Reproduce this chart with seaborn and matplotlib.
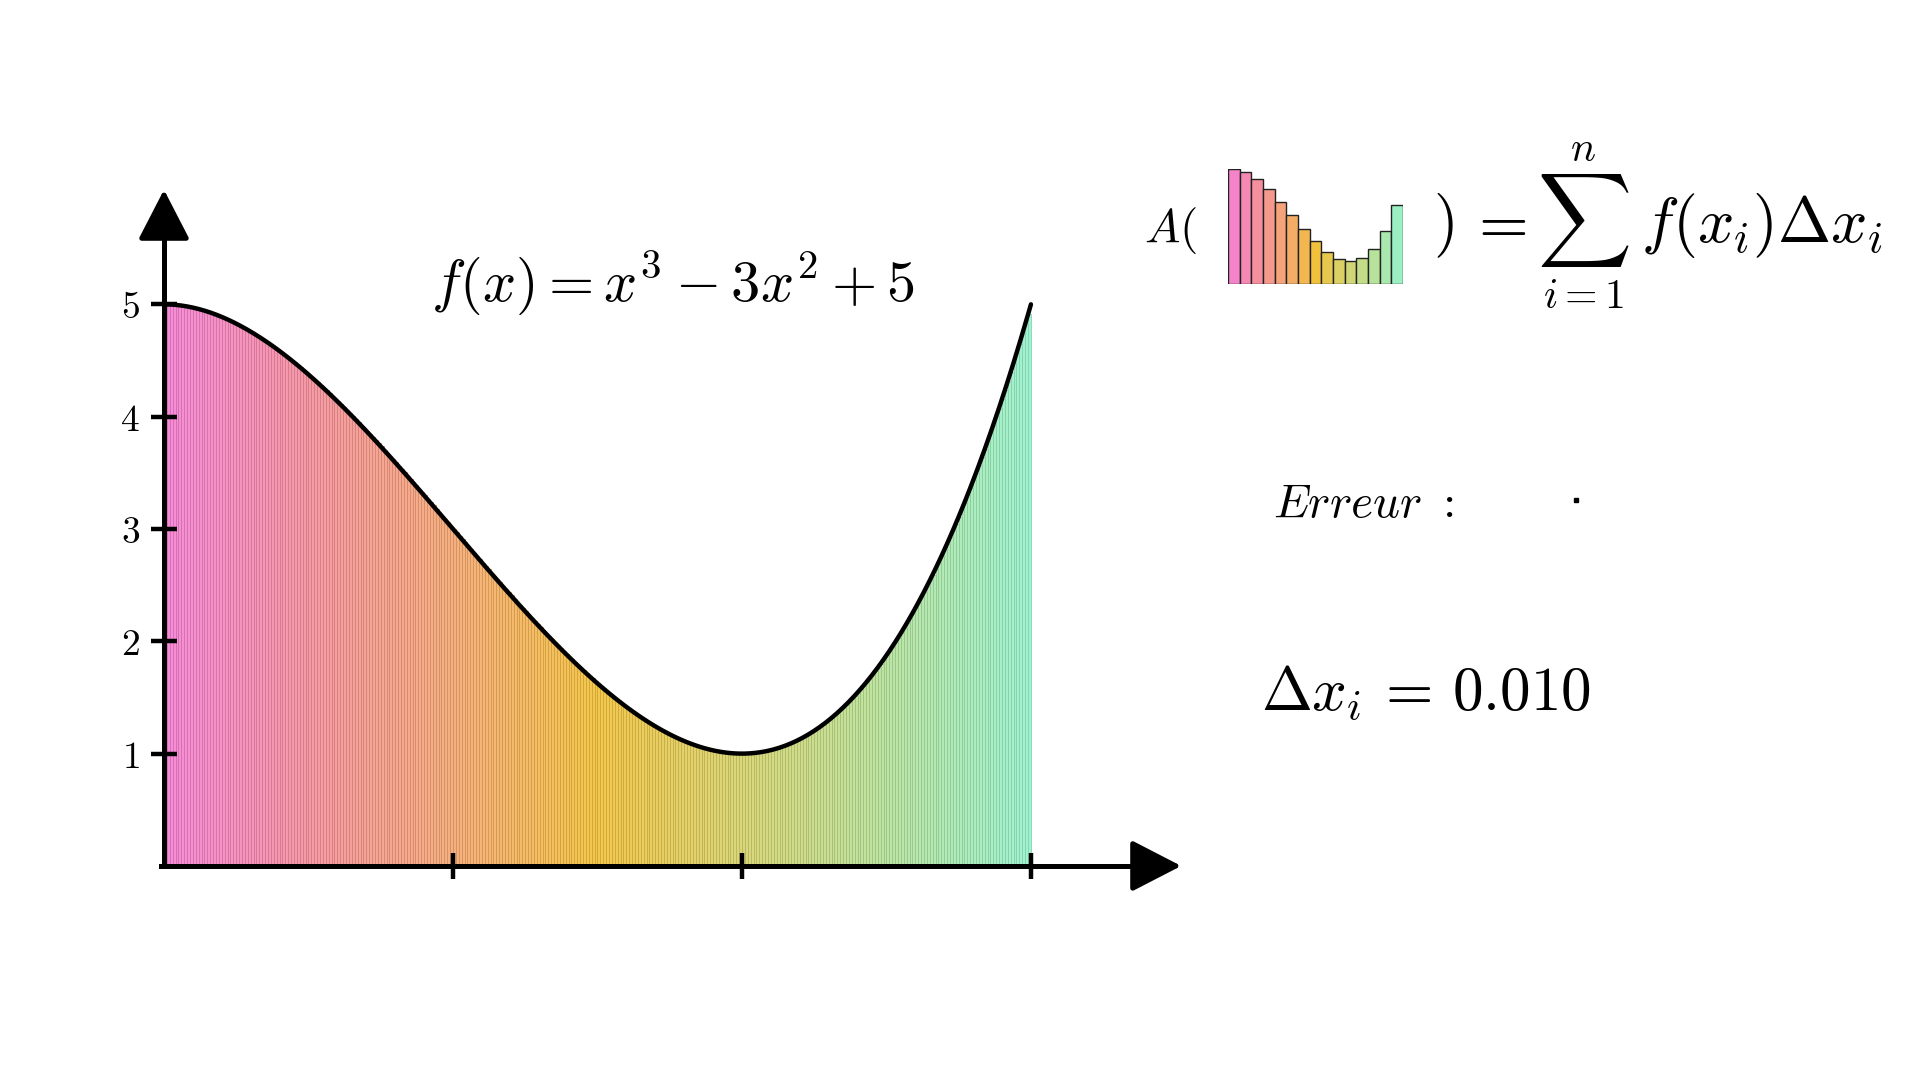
"""
Somme de Riemann de f(x) = x^3 - 3x^2 + 5 sur [0, 3]
"""
import matplotlib.pyplot as plt
import seaborn as sns
import numpy as np
import pandas as pd
from matplotlib.colors import LinearSegmentedColormap, to_rgb
from matplotlib.lines import Line2D

plt.switch_backend('Agg')

# Donnees du graphique
coefs = [1, -3, 0, 5]            # f(x) = x^3 - 3x^2 + 5
x_min, x_max = 0.0, 3.0
delta_x = 0.01
y_ticks = [1, 2, 3, 4, 5]
x_ticks = [1, 2, 3]

# petite icone : 15 rectangles
icone_hauteurs = [5.0, 4.89, 4.58, 4.14, 3.59, 3.0, 2.41, 1.86,
                  1.42, 1.11, 1.0, 1.13, 1.54, 2.30, 3.43]

# degrade rose -> jaune -> vert d'eau
degrade = ["#f580d4", "#f58f9c", "#f5a872", "#f2c13a",
           "#d6d36c", "#b6e29a", "#96f2cc"]
cmap = LinearSegmentedColormap.from_list("riemann", degrade)

sns.set_style("white")
plt.rcParams['mathtext.fontset'] = 'cm'
plt.rcParams['font.family'] = ['DejaVu Sans']
plt.rcParams['text.color'] = 'black'

fig = plt.figure(figsize=(19.2, 10.8), dpi=100)
fig.patch.set_facecolor('white')

# axes principaux : 1 unite x = 289 px, 1 unite y = 112.3 px
ax = fig.add_axes([0.01016, 0.0942, 0.6773, 0.780])
ax.set_facecolor('none')
ax.set_axisbelow(False)

# rectangles de Riemann (extremite gauche)
x_gauche = np.arange(x_min, x_max - delta_x / 2, delta_x)
df = pd.DataFrame({
    'x': x_gauche + delta_x / 2,
    'h': np.polyval(coefs, x_gauche),
    'k': [f"{i:03d}" for i in range(len(x_gauche))],
})
couleurs = [cmap(v) for v in (df['x'] - x_min) / (x_max - x_min)]
sns.barplot(data=df, x='x', y='h', hue='k', palette=couleurs,
            native_scale=True, width=1, saturation=1, legend=False,
            alpha=0.9, linewidth=0.6, ax=ax)
for p in ax.patches:
    r, g, b = to_rgb(p.get_facecolor()[:3])
    p.set_edgecolor((r * 0.85, g * 0.85, b * 0.85, 0.9))

# courbe
x_fin = np.linspace(x_min, x_max, 600)
sns.lineplot(x=x_fin, y=np.polyval(coefs, x_fin), color='black',
             linewidth=3.2, ax=ax, zorder=5)

ax.set_xlim(-0.5, 4.0)
ax.set_ylim(-1.0, 6.5)

# axes avec fleches
for s in ['top', 'right']:
    ax.spines[s].set_visible(False)
ax.spines['left'].set_position(('data', 0))
ax.spines['bottom'].set_position(('data', 0))
ax.spines['left'].set_bounds(0, 5.8)
ax.spines['bottom'].set_bounds(-0.01, 3.4)
for s in ['left', 'bottom']:
    ax.spines[s].set_linewidth(3.6)
    ax.spines[s].set_color('black')
    ax.spines[s].set_zorder(6)

fleche = dict(arrowstyle='-|>,head_length=31,head_width=16', color='black',
              lw=3.6, shrinkA=0, shrinkB=0, mutation_scale=1)
ax.annotate('', xy=(3.52, 0), xytext=(3.35, 0), arrowprops=fleche, zorder=7)
ax.annotate('', xy=(0, 6.02), xytext=(0, 5.6), arrowprops=fleche, zorder=7)

ax.set_xticks(x_ticks)
ax.set_xticklabels([])
ax.set_yticks(y_ticks)
ax.set_yticklabels([f"${v}$" for v in y_ticks], fontsize=27)
ax.tick_params(axis='both', direction='inout', length=19, width=3.2,
               color='black', labelcolor='black', pad=8,
               bottom=True, left=True)
ax.set_xlabel('')
ax.set_ylabel('')

# textes
fig.text(0.3505, 0.722, r"$f(x) = x^3 - 3x^2 + 5$", fontsize=42,
         ha='center', va='baseline')
fig.text(0.596, 0.776, r"$A($", fontsize=34, ha='left', va='baseline')
fig.text(0.7464, 0.776, r"$)$", fontsize=46, ha='left', va='baseline')
fig.text(0.7797, 0.776, r"$=$", fontsize=46, ha='center', va='baseline')
fig.text(0.8245, 0.796, r"$\sum$", fontsize=47, ha='center', va='center')
fig.text(0.8245, 0.862, r"$n$", fontsize=30, ha='center', va='center')
fig.text(0.8245, 0.726, r"$i{=}1$", fontsize=30, ha='center', va='center')
fig.text(0.8547, 0.776, r"$f(x_i)\Delta x_i$", fontsize=46,
         ha='left', va='baseline')
fig.text(0.663, 0.521, r"$Erreur\ :$", fontsize=34, ha='left', va='baseline')
fig.add_artist(Line2D([0.821], [0.537], marker='s', markersize=3,
                      color='black', transform=fig.transFigure))
fig.text(0.657, 0.343, r"$\Delta x_i\,=\,0.010$", fontsize=44,
         ha='left', va='baseline')

# icone de l'aire
ax_ic = fig.add_axes([0.6396, 0.737, 0.0911, 0.1065])
n_ic = len(icone_hauteurs)
df_ic = pd.DataFrame({
    'i': [f"{i:02d}" for i in range(n_ic)],
    'h': icone_hauteurs,
})
sns.barplot(data=df_ic, x='i', y='h', hue='i',
            palette=[cmap((i + 0.5) / n_ic) for i in range(n_ic)],
            width=1, saturation=1, legend=False, edgecolor='#222222',
            linewidth=1.0, ax=ax_ic)
ax_ic.set_xlim(-0.5, n_ic - 0.5)
ax_ic.set_ylim(0, 5.02)
ax_ic.axis('off')

fig.savefig('out.png', dpi=100, facecolor='white')
plt.close(fig)
